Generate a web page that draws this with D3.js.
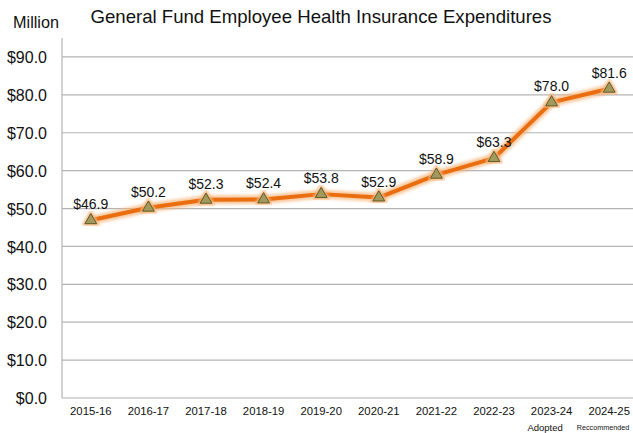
<!DOCTYPE html>
<html><head><meta charset="utf-8">
<script src="https://cdn.jsdelivr.net/npm/d3@7"></script>
<style>body{margin:0;background:#fff}svg{display:block;font-family:"Liberation Sans",Arial,sans-serif}</style>
</head><body>
<svg id="c" width="633" height="433"></svg>
<script>
const categories = ["2015-16","2016-17","2017-18","2018-19","2019-20","2020-21","2021-22","2022-23","2023-24","2024-25"];
const values = [46.9,50.2,52.3,52.4,53.8,52.9,58.9,63.3,78.0,81.6];
const subLabels = ["","","","","","","","","Adopted","Reccommended"];
const yTicks = [0,10,20,30,40,50,60,70,80,90];

const svg = d3.select("#c");
const mLeft = 62, mRight = 638, mTop = 38, mBottom = 398;
const x = d3.scaleBand().domain(categories).range([mLeft, mRight]);
const y = d3.scaleLinear().domain([0,95]).range([mBottom, mTop]);
const cx = d => x(d) + x.bandwidth()/2;

const defs = svg.append("defs");
const f = defs.append("filter").attr("id","glow").attr("x","-20%").attr("y","-20%").attr("width","140%").attr("height","140%");
f.append("feGaussianBlur").attr("stdDeviation",1.6);

// gridlines
svg.append("g").selectAll("line").data(yTicks.filter(t=>t>0)).join("line")
  .attr("x1",mLeft).attr("x2",633).attr("y1",d=>y(d)).attr("y2",d=>y(d))
  .attr("stroke","#b4b4b4").attr("stroke-width",1.2);

// axes
const yAxis = d3.axisLeft(y).tickValues(yTicks).tickSize(0).tickPadding(8).tickFormat(d=>"$"+d3.format(".1f")(d));
const gy = svg.append("g").attr("transform",`translate(${mLeft},0)`).call(yAxis);
gy.select(".domain").attr("stroke","#b4b4b4").attr("stroke-width",1.2).attr("d",`M0,${mTop}V${mBottom}`);
gy.selectAll("text").attr("font-size",16).attr("fill","#111").attr("font-family","Liberation Sans, Arial, sans-serif").attr("dy","0.35em").attr("x",-15);

svg.append("line").attr("x1",mLeft).attr("x2",633).attr("y1",mBottom).attr("y2",mBottom).attr("stroke","#b4b4b4").attr("stroke-width",1.2);

const xAxis = d3.axisBottom(x).tickSize(0).tickPadding(9);
const gx = svg.append("g").attr("transform",`translate(0,${mBottom})`).call(xAxis);
gx.select(".domain").remove();
gx.selectAll("text").attr("font-size",11.3).attr("fill","#111").attr("font-family","Liberation Sans, Arial, sans-serif");

svg.append("g").selectAll("text").data(categories).join("text")
  .attr("x",(d,i)=>i===9?603:cx(d)-6.5).attr("y",(d,i)=>i===9?430:431).attr("text-anchor","middle")
  .attr("font-size",(d,i)=>i===8?9.5:7.2).attr("fill","#111")
  .text((d,i)=>subLabels[i]);

// line
const line = d3.line().x((d,i)=>cx(categories[i])).y(d=>y(d));
svg.append("path").datum(values).attr("d",line).attr("fill","none")
  .attr("stroke","#f6b57a").attr("stroke-width",9).attr("stroke-linejoin","round").attr("opacity",0.75).attr("filter","url(#glow)");
svg.append("path").datum(values).attr("d",line).attr("fill","none")
  .attr("stroke","#ea6d10").attr("stroke-width",4).attr("stroke-linejoin","round");

// markers
const tri = d3.symbol().type(d3.symbolTriangle).size(60);
const mk = svg.append("g").selectAll("g").data(values).join("g")
  .attr("transform",(d,i)=>`translate(${cx(categories[i])},${y(d)})`);
mk.append("path").attr("d",tri).attr("fill","none").attr("stroke","#f6b57a").attr("stroke-width",4).attr("filter","url(#glow)");
mk.append("path").attr("d",tri).attr("fill","#a19a5c").attr("stroke","#5f5b2c").attr("stroke-width",1);

// labels
svg.append("g").selectAll("text").data(values).join("text")
  .attr("x",(d,i)=>cx(categories[i])).attr("y",d=>y(d)-11).attr("text-anchor","middle")
  .attr("font-size",14).attr("fill","#111")
  .text(d=>"$"+d3.format(".1f")(d));

// title
svg.append("text").attr("x",321).attr("y",23).attr("text-anchor","middle").attr("font-size",18.6).attr("fill","#111")
  .text("General Fund Employee Health Insurance Expenditures");
svg.append("text").attr("x",36).attr("y",28).attr("text-anchor","middle").attr("font-size",16.2).attr("fill","#111").text("Million");
</script>
</body></html>
